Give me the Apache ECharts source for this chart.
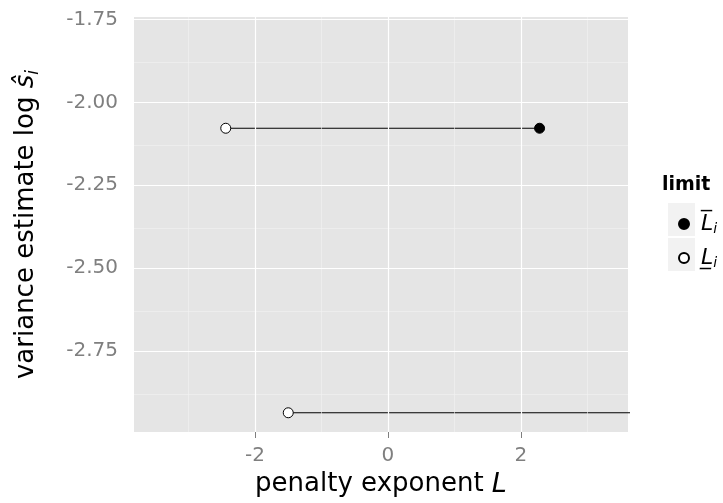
<!DOCTYPE html>
<html>
<head>
<meta charset="utf-8">
<script src="https://cdn.jsdelivr.net/npm/echarts@6/dist/echarts.min.js"></script>
<style>html,body{margin:0;padding:0;background:#fff}#c{width:723px;height:503px}</style>
</head>
<body>
<div id="c"></div>
<script>
// data
var rowY = [-2.078, -2.936];
var lowerL = [-2.44, -1.50];
var upperL = [2.28, 4.60];
var xTicks = [-2, 0, 2];
var xMinor = [-3, -1, 1, 3];
var yTicks = [-2.75, -2.50, -2.25, -2.00, -1.75];
var yMinor = [-2.875, -2.625, -2.375, -2.125, -1.875];
var legendNames = ['upper', 'lower'];

var chart = echarts.init(document.getElementById('c'), null, {renderer: 'canvas'});
var FONT = 'DejaVu Sans';

var gridLines = [];
xMinor.forEach(function(v){ gridLines.push({xAxis: v, lineStyle:{color:'#f2f2f2', width:0.6, type:'solid'}}); });
yMinor.forEach(function(v){ gridLines.push({yAxis: v, lineStyle:{color:'#f2f2f2', width:0.6, type:'solid'}}); });
xTicks.forEach(function(v){ gridLines.push({xAxis: v, lineStyle:{color:'#ffffff', width:1.2, type:'solid'}}); });
yTicks.forEach(function(v){ gridLines.push({yAxis: v, lineStyle:{color:'#ffffff', width:1.2, type:'solid'}}); });

var series = [{
  type: 'line', data: [], silent: true, z: 1,
  markLine: {silent: true, symbol: ['none','none'], label:{show:false}, animation:false, data: gridLines}
}];
rowY.forEach(function(y, i){
  series.push({type:'line', data:[[lowerL[i], y],[upperL[i], y]], symbol:'none', clip:true, z:3,
    lineStyle:{color:'#000', width:1.2}, silent:true, animation:false});
});
series.push({name:'upper', type:'scatter', data: rowY.map(function(y,i){return [upperL[i], y];}), symbol:'circle', symbolSize:10, clip:true, z:5,
  itemStyle:{color:'#000', borderColor:'#000', borderWidth:1, opacity:1}, animation:false});
series.push({name:'lower', type:'scatter', data: rowY.map(function(y,i){return [lowerL[i], y];}), symbol:'circle', symbolSize:10, clip:true, z:5,
  itemStyle:{color:'#fff', borderColor:'#000', borderWidth:1, opacity:1}, animation:false});

chart.setOption({
  animation: false,
  backgroundColor: '#fff',
  grid: {left:134, right:95, top:17, bottom:68, show:true, backgroundColor:'#e5e5e5', borderWidth:0},
  xAxis: {
    type:'value', min:-3.82, max:3.61,
    axisLine:{show:false},
    splitLine:{show:false},
    axisTick:{show:true, customValues: xTicks, length:6, lineStyle:{color:'#7f7f7f', width:1}},
    axisLabel:{customValues: xTicks, color:'#7f7f7f', fontSize:20, fontFamily:FONT, margin:14,
      formatter:function(v){return String(v);}},
    name:'penalty exponent {it|L}', nameLocation:'middle', nameGap:39,
    nameTextStyle:{color:'#000', fontSize:26, fontFamily:FONT, rich:{it:{fontStyle:'italic', fontSize:27, fontFamily:FONT, color:'#000'}}}
  },
  yAxis: {
    type:'value', min:-2.994, max:-1.7425,
    axisLine:{show:false},
    splitLine:{show:false},
    axisTick:{show:true, customValues: yTicks, length:6, lineStyle:{color:'#7f7f7f', width:1}},
    axisLabel:{customValues: yTicks, color:'#7f7f7f', fontSize:20, fontFamily:FONT, margin:16,
      formatter:function(v){return v.toFixed(2);}},
    name:'variance estimate log {it|ŝ}{sub|i}', nameLocation:'middle', nameGap:92, nameRotate:90,
    nameTextStyle:{color:'#000', fontSize:26, fontFamily:FONT, rich:{it:{fontStyle:'italic', fontSize:26, fontFamily:FONT, color:'#000'}, sub:{fontStyle:'italic', fontSize:17, fontFamily:FONT, color:'#000', verticalAlign:'bottom', padding:[14,0,0,0]}}}
  },
  legend: {
    data: legendNames, orient:'vertical', left:673, top:208, itemWidth:10, itemHeight:10, itemGap:11, z:10,
    icon:'circle', selectedMode:false,
    formatter:function(n){ return n === 'upper' ? '{a|L̅}{s|i}' : '{a|L̲}{s|i}'; },
    textStyle:{fontFamily:FONT, color:'#000', rich:{a:{fontStyle:'italic', fontSize:22, fontFamily:FONT, padding:[0,0,0,7]}, s:{fontStyle:'italic', fontSize:14, fontFamily:FONT, padding:[10,0,0,0]}}}
  },
  graphic: [
    {type:'text', left:662, top:176, z:1, style:{text:'limit', font:'bold 19px "DejaVu Sans"', fill:'#000'}},
    {type:'rect', shape:{x:668, y:203, width:27, height:33}, style:{fill:'#f2f2f2'}, z:0},
    {type:'rect', shape:{x:668, y:238, width:27, height:33}, style:{fill:'#f2f2f2'}, z:0}
  ],
  series: series
});
</script>
</body>
</html>
